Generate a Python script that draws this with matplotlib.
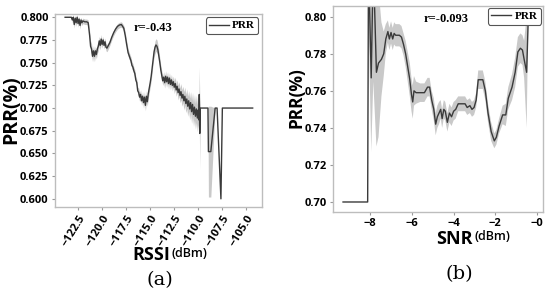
import matplotlib
matplotlib.use("Agg")
import matplotlib.pyplot as plt
import numpy as np

# ---------------- data (a): PRR vs RSSI ----------------
rssi = [-123.85, -123.2, -123.1, -123.0, -122.9, -122.8, -122.7, -122.6, -122.5, -122.4,
        -122.3, -122.2, -122.1, -122.0, -121.8, -121.6, -121.45, -121.3, -121.2, -121.1,
        -121.0, -120.9, -120.8, -120.7, -120.6, -120.5, -120.4, -120.3, -120.2, -120.1,
        -120.0, -119.9, -119.8, -119.7, -119.6, -119.5, -119.4, -119.2, -119.0, -118.8,
        -118.6, -118.4, -118.2, -118.0, -117.9, -117.75, -117.6, -117.45, -117.3, -117.1,
        -117.0, -116.9, -116.8, -116.7, -116.6, -116.5, -116.4, -116.3, -116.2, -116.1,
        -116.0, -115.9, -115.8, -115.7, -115.6, -115.5, -115.4, -115.3, -115.2, -115.1,
        -115.0, -114.9, -114.8, -114.7, -114.6, -114.5, -114.4, -114.3, -114.2, -114.1,
        -114.0, -113.9, -113.8, -113.7, -113.6, -113.5, -113.4, -113.3, -113.2, -113.1,
        -113.0, -112.9, -112.8, -112.7, -112.6, -112.5, -112.4, -112.3, -112.2, -112.1,
        -112.0, -111.9, -111.8, -111.7, -111.6, -111.5, -111.4, -111.3, -111.2, -111.1,
        -111.0, -110.9, -110.8, -110.7, -110.6, -110.5, -110.4, -110.3, -110.2, -110.1,
        -110.0, -109.95, -109.9, -109.85, -109.8, -109.0, -108.95, -108.7, -108.25, -108.05,
        -107.65, -107.5, -104.35]
prr_a = [0.800, 0.800, 0.797, 0.800, 0.792, 0.799, 0.794, 0.800, 0.793, 0.798,
         0.791, 0.797, 0.794, 0.796, 0.795, 0.795, 0.794, 0.780, 0.768, 0.765,
         0.757, 0.763, 0.757, 0.763, 0.759, 0.765, 0.768, 0.774, 0.769, 0.776,
         0.770, 0.775, 0.769, 0.773, 0.767, 0.766, 0.768, 0.772, 0.778, 0.783,
         0.787, 0.790, 0.7915, 0.792, 0.7905, 0.788, 0.780, 0.770, 0.761, 0.755,
         0.752, 0.747, 0.745, 0.741, 0.738, 0.731, 0.728, 0.719, 0.717, 0.712,
         0.715, 0.708, 0.713, 0.706, 0.712, 0.703, 0.713, 0.707, 0.716, 0.722,
         0.728, 0.735, 0.744, 0.754, 0.762, 0.767, 0.7695, 0.768, 0.764, 0.757,
         0.750, 0.742, 0.736, 0.730, 0.734, 0.728, 0.735, 0.729, 0.734, 0.727,
         0.733, 0.726, 0.731, 0.725, 0.729, 0.723, 0.727, 0.720, 0.724, 0.717,
         0.721, 0.714, 0.718, 0.711, 0.715, 0.708, 0.713, 0.705, 0.710, 0.702,
         0.708, 0.699, 0.706, 0.696, 0.704, 0.693, 0.701, 0.691, 0.699, 0.689,
         0.698, 0.687, 0.715, 0.672, 0.700, 0.700, 0.652, 0.652, 0.700, 0.700,
         0.600, 0.700, 0.700]
ci_a = [0.0, 0.0, 0.003, 0.003, 0.004, 0.003, 0.004, 0.003, 0.004, 0.003,
        0.004, 0.003, 0.003, 0.003, 0.003, 0.003, 0.003, 0.005, 0.006, 0.006,
        0.006, 0.006, 0.006, 0.005, 0.005, 0.005, 0.005, 0.005, 0.005, 0.005,
        0.004, 0.004, 0.004, 0.004, 0.004, 0.004, 0.004, 0.003, 0.003, 0.003,
        0.003, 0.003, 0.003, 0.003, 0.003, 0.003, 0.004, 0.004, 0.004, 0.004,
        0.004, 0.004, 0.004, 0.004, 0.004, 0.004, 0.004, 0.004, 0.005, 0.005,
        0.005, 0.005, 0.005, 0.006, 0.006, 0.006, 0.006, 0.005, 0.005, 0.005,
        0.005, 0.005, 0.005, 0.005, 0.006, 0.007, 0.007, 0.007, 0.006, 0.006,
        0.005, 0.005, 0.005, 0.005, 0.006, 0.006, 0.006, 0.006, 0.006, 0.006,
        0.006, 0.006, 0.006, 0.006, 0.006, 0.007, 0.007, 0.007, 0.007, 0.008,
        0.008, 0.008, 0.009, 0.009, 0.009, 0.010, 0.010, 0.010, 0.011, 0.011,
        0.011, 0.012, 0.012, 0.013, 0.013, 0.013, 0.014, 0.014, 0.015, 0.015,
        0.016, 0.016, 0.030, 0.040, 0.0, 0.0, 0.050, 0.050, 0.0, 0.0,
        0.0, 0.0, 0.0]

# ---------------- data (b): PRR vs SNR ----------------
snr = [-9.3, -8.12, -8.08, -7.95, -7.85, -7.7, -7.6, -7.46, -7.35, -7.25,
       -7.15, -7.08, -7.0, -6.92, -6.85, -6.78, -6.6, -6.5, -6.4, -6.3,
       -6.2, -6.1, -6.02, -5.96, -5.9, -5.8, -5.6, -5.4, -5.25, -5.15,
       -5.05, -4.95, -4.86, -4.78, -4.7, -4.62, -4.55, -4.47, -4.4, -4.3,
       -4.2, -4.1, -4.0, -3.9, -3.78, -3.6, -3.45, -3.35, -3.22, -3.12,
       -3.02, -2.92, -2.82, -2.6, -2.48, -2.35, -2.2, -2.05, -1.95, -1.82,
       -1.65, -1.5, -1.38, -1.2, -1.05, -0.92, -0.8, -0.7, -0.62, -0.5,
       -0.42]
prr_b = [0.700, 0.700, 0.830, 0.767, 0.830, 0.770, 0.775, 0.777, 0.780, 0.788,
         0.792, 0.788, 0.7915, 0.788, 0.791, 0.790, 0.790, 0.789, 0.785, 0.780,
         0.773, 0.766, 0.758, 0.754, 0.760, 0.759, 0.759, 0.759, 0.762, 0.762,
         0.755, 0.750, 0.742, 0.746, 0.748, 0.750, 0.745, 0.750, 0.749, 0.743,
         0.748, 0.746, 0.749, 0.750, 0.753, 0.753, 0.753, 0.751, 0.752, 0.750,
         0.751, 0.755, 0.766, 0.766, 0.760, 0.748, 0.738, 0.733, 0.735, 0.741,
         0.747, 0.747, 0.756, 0.762, 0.770, 0.781, 0.783, 0.782, 0.777, 0.770,
         0.800]
ci_b = [0.0, 0.0, 0.030, 0.040, 0.065, 0.040, 0.040, 0.020, 0.012, 0.008,
        0.006, 0.006, 0.006, 0.006, 0.006, 0.006, 0.006, 0.006, 0.006, 0.007,
        0.008, 0.009, 0.009, 0.009, 0.008, 0.006, 0.005, 0.005, 0.005, 0.005,
        0.005, 0.006, 0.006, 0.006, 0.006, 0.005, 0.005, 0.005, 0.005, 0.005,
        0.005, 0.005, 0.005, 0.005, 0.004, 0.004, 0.004, 0.004, 0.004, 0.004,
        0.004, 0.004, 0.005, 0.005, 0.005, 0.005, 0.005, 0.004, 0.004, 0.004,
        0.005, 0.006, 0.006, 0.007, 0.008, 0.008, 0.008, 0.008, 0.010, 0.030,
        0.0]

yticks_a = [0.600, 0.625, 0.650, 0.675, 0.700, 0.725, 0.750, 0.775, 0.800]
ytick_labels_a = ["0.600", "0.625", "0.650", "0.675", "0.700", "0.725", "0.750", "0.775", "0.800"]
xticks_a = [-122.5, -120.0, -117.5, -115.0, -112.5, -110.0, -107.5, -105.0]
xtick_labels_a = ["\u2212122.5", "\u2212120.0", "\u2212117.5", "\u2212115.0",
                  "\u2212112.5", "\u2212110.0", "\u2212107.5", "\u2212105.0"]
yticks_b = [0.70, 0.72, 0.74, 0.76, 0.78, 0.80]
ytick_labels_b = ["0.70", "0.72", "0.74", "0.76", "0.78", "0.80"]
xticks_b = [-8, -6, -4, -2, 0]
xtick_labels_b = ["\u22128", "\u22126", "\u22124", "\u22122", "\u22120"]

LINE = "#3a3a3a"
BAND = "#c9c9c9"
SPINE = "#bdbdbd"
SANS = ["Open Sans", "DejaVu Sans"]
SERIF = ["Liberation Serif", "DejaVu Serif"]
CAP = ["DejaVu Serif"]

fig = plt.figure(figsize=(5.5, 2.96), dpi=100)

def style(ax):
    for s in ax.spines.values():
        s.set_color(SPINE)
        s.set_linewidth(1.0)
    ax.tick_params(axis="both", length=2.5, width=0.8, color="#999999", pad=2)

# ---- panel (a)
ax1 = fig.add_axes([0.100, 0.3007, 0.376, 0.652])
x = np.array(rssi); y = np.array(prr_a); c = np.array(ci_a)
ax1.fill_between(x, y - c, y + c, color=BAND, linewidth=0)
ax1.plot(x, y, color=LINE, lw=1.0, label="PRR")
ax1.set_xlim(-124.9, -103.4)
ax1.set_ylim(0.591, 0.8036)
ax1.set_yticks(yticks_a)
ax1.set_yticklabels(ytick_labels_a, fontfamily=SANS, fontweight="bold", fontsize=8)
ax1.set_xticks(xticks_a)
ax1.set_xticklabels(xtick_labels_a, fontfamily=SANS, fontweight="bold", fontsize=8,
                    rotation=58, ha="right", rotation_mode="anchor")
style(ax1)
ax1.text(0.475, 0.93, "r=-0.43", transform=ax1.transAxes, ha="center", va="center",
         fontfamily=SERIF, fontweight="bold", fontsize=9)
leg1 = ax1.legend(loc="upper right", prop={"family": SERIF, "weight": "bold", "size": 8},
                  handlelength=1.8, handletextpad=0.3, borderpad=0.3,
                  fancybox=True, framealpha=1, edgecolor="#555555",
                  borderaxespad=0.3)
leg1.get_frame().set_linewidth(0.8)
fig.text(0.021, 0.628, "PRR(%)", rotation=90, ha="center", va="center",
         fontfamily=SANS, fontweight="bold", fontsize=14)
fig.text(0.309, 0.138, "RSSI", ha="right", va="center", fontfamily=SANS,
         fontweight="bold", fontsize=13)
fig.text(0.312, 0.145, "(dBm)", ha="left", va="center", fontfamily=SANS,
         fontweight="semibold", fontsize=9)
fig.text(0.290, 0.054, "(a)", ha="center", va="center", fontfamily=CAP, fontsize=14)

# ---- panel (b)
ax2 = fig.add_axes([0.6055, 0.2838, 0.382, 0.696])
x = np.array(snr); y = np.array(prr_b); c = np.array(ci_b)
ax2.fill_between(x, y - c, y + c, color=BAND, linewidth=0)
ax2.plot(x, y, color=LINE, lw=1.0, label="PRR")
ax2.set_xlim(-9.78, 0.29)
ax2.set_ylim(0.6946, 0.8058)
ax2.set_yticks(yticks_b)
ax2.set_yticklabels(ytick_labels_b, fontfamily=SANS, fontweight="bold", fontsize=8)
ax2.set_xticks(xticks_b)
ax2.set_xticklabels(xtick_labels_b, fontfamily=SANS, fontweight="bold", fontsize=8)
style(ax2)
ax2.text(0.54, 0.935, "r=-0.093", transform=ax2.transAxes, ha="center", va="center",
         fontfamily=SERIF, fontweight="bold", fontsize=9)
leg2 = ax2.legend(loc="upper right", prop={"family": SERIF, "weight": "bold", "size": 8},
                  handlelength=1.8, handletextpad=0.3, borderpad=0.3,
                  fancybox=True, framealpha=1, edgecolor="#555555",
                  borderaxespad=0.2)
leg2.get_frame().set_linewidth(0.8)
fig.text(0.540, 0.672, "PRR(%)", rotation=90, ha="center", va="center",
         fontfamily=SANS, fontweight="bold", fontsize=12.5)
fig.text(0.860, 0.194, "SNR", ha="right", va="center", fontfamily=SANS,
         fontweight="bold", fontsize=13)
fig.text(0.862, 0.200, "(dBm)", ha="left", va="center", fontfamily=SANS,
         fontweight="semibold", fontsize=9)
fig.text(0.836, 0.074, "(b)", ha="center", va="center", fontfamily=CAP, fontsize=14)

fig.savefig("out.png", dpi=100)
